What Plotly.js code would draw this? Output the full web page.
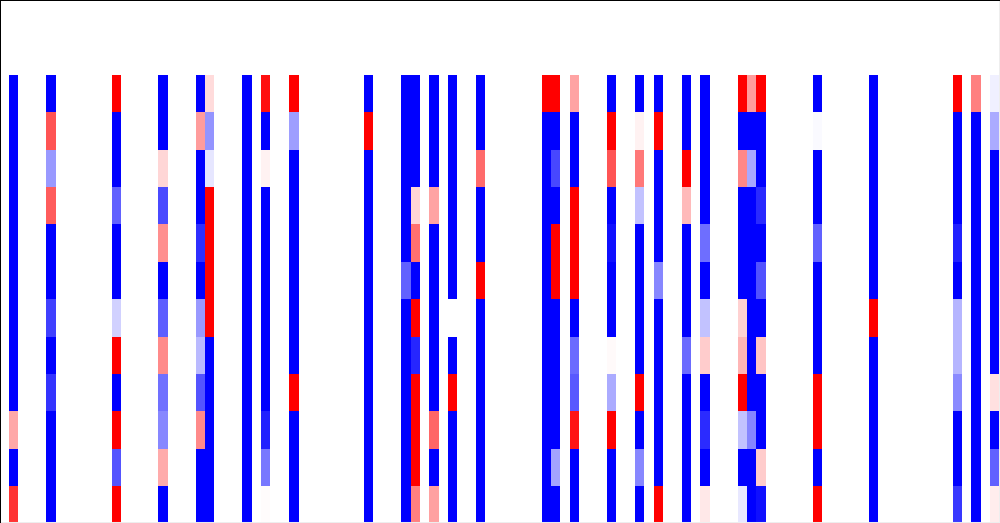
<!DOCTYPE html>
<html>
<head>
<meta charset="utf-8">
<script src="https://cdn.plot.ly/plotly-3.0.1.min.js"></script>
<style>html,body{margin:0;padding:0;background:#fff}#chart{width:1000px;height:523px}</style>
</head>
<body>
<div id="chart"></div>
<script>
var columnCount = 107;
var rowCount = 14;
var firstDataRow = 2;
var activeColumns = [1,5,12,17,21,22,26,28,31,39,43,44,46,48,51,58,59,61,65,68,70,73,75,79,80,81,87,93,102,104,106];
var col1 = [-1,-1,-1,-1,-1,-1,-1,-1,-1,.34,-1,.8];
var col5 = [-1,.67,-.4,.64,-1,-1,-.75,-1,-.8,-1,-1,-1];
var col12 = [1,-1,-1,-.62,-1,-1,-.18,1,-1,1,-.67,1];
var col17 = [-1,-1,.16,-.71,.44,-1,-.63,.46,-.56,-.47,.33,-1];
var col21 = [-1,.39,-1,-1,-.82,-1,-.4,-.27,-.67,.46,-1,-1];
var col22 = [.14,-.42,-.1,1,1,1,1,-1,-1,-1,-1,-1];
var col26 = [-1,-1,-1,-1,-1,-1,-1,-1,-1,-1,-1,-1];
var col28 = [.94,-1,.05,-1,-1,-1,-1,-1,-1,-.87,-.53,.01];
var col31 = [1,-.38,-1,-1,-1,-1,-1,-1,1,-1,-1,-1];
var col39 = [-1,1,-1,-1,-1,-1,-1,-1,-1,-1,-1,-1];
var col43 = [-1,-1,-1,-1,-1,-.62,-1,-1,-1,-1,-1,-1];
var col44 = [-1,-1,-1,.16,.56,-1,1,-.85,1,1,1,.5];
var col46 = [-1,-1,-1,.36,-1,-1,-1,-1,-1,.6,-1,.37];
var col48 = [-1,-1,-1,-1,-1,-1,0,-1,1,-1,-1,-1];
var col51 = [-1,-1,.58,-1,-1,1,-1,-1,-1,-1,-1,-1];
var col58 = [1,-1,-1,-1,-1,-1,-1,-1,-1,-1,-1,-1];
var col59 = [1,-1,-.72,-1,1,1,-1,-1,-1,-1,-.36,-1];
var col61 = [.36,-1,-1,1,1,1,-1,-.58,-.65,.92,-1,-1];
var col65 = [-1,1,.67,-1,-.94,-1,-1,.02,-.33,1,-1,-1];
var col68 = [-1,.05,.53,-.24,-1,-1,-1,-1,1,-1,-.47,-1];
var col70 = [-1,1,-1,-1,-1,-.47,-1,-1,-1,-1,-1,1];
var col73 = [-1,-1,1,.27,-1,-1,-1,-.58,-1,-1,-1,-1];
var col75 = [-1,-1,-1,-1,-.57,-1,-.24,.2,-1,-.83,-1,.09];
var col79 = [1,-1,.47,-1,-1,-1,.18,.29,1,-.24,-1,-.09];
var col80 = [.39,-1,-.34,-1,-1,-1,-1,-1,-1,-.48,-1,-1];
var col81 = [1,-1,-1,-.84,-1,-.68,-1,.23,-1,-1,.2,-.94];
var col87 = [-1,-.02,-1,-1,-.62,-1,-1,-1,1,1,-1,1];
var col93 = [-1,-1,-1,-1,-1,-1,1,-1,-1,-1,-1,-1];
var col102 = [1,-1,-1,-1,-.87,-1,-.29,-.29,-.46,-1,-1,-.78];
var col104 = [.5,-1,-1,-1,-1,-1,-1,-1,-1,-1,-1,-1];
var col106 = [-.06,-.33,-1,-1,-1,-1,-1,-1,.12,-1,-.62,.07];
var activeValues = [col1,col5,col12,col17,col21,col22,col26,col28,col31,col39,col43,col44,col46,col48,col51,col58,col59,col61,col65,col68,col70,col73,col75,col79,col80,col81,col87,col93,col102,col104,col106];

var z = [];
for (var r = 0; r < rowCount; r++) {
  var row = [];
  for (var c = 0; c < columnCount; c++) row.push(0);
  z.push(row);
}
activeColumns.forEach(function (c, i) {
  activeValues[i].forEach(function (v, r) { z[r + firstDataRow][c] = v; });
});

Plotly.newPlot('chart', [{
  type: 'heatmap',
  z: z,
  zmin: -1,
  zmax: 1,
  colorscale: [[0, '#0000ff'], [0.5, '#ffffff'], [1, '#ff0000']],
  showscale: false,
  hoverongaps: false
}], {
  width: 1000,
  height: 523,
  margin: {l: 0, r: 0, t: 0, b: 0, pad: 0},
  paper_bgcolor: '#ffffff',
  plot_bgcolor: '#ffffff',
  xaxis: {showticklabels: false, ticks: '', showgrid: false, zeroline: false, showline: false, range: [-0.4433, 106.5567]},
  yaxis: {showticklabels: false, ticks: '', showgrid: false, zeroline: false, showline: false, range: [13.4906, -0.5094]},
  shapes: [
    {type: 'line', xref: 'paper', yref: 'paper', x0: 0, x1: 1, y0: 0.001, y1: 0.001, line: {color: '#eeeeee', width: 1}},
    {type: 'line', xref: 'paper', yref: 'paper', x0: 0.9995, x1: 0.9995, y0: 0, y1: 1, line: {color: '#eeeeee', width: 1}},
    {type: 'line', xref: 'paper', yref: 'paper', x0: 0, x1: 1, y0: 1, y1: 1, line: {color: '#000000', width: 2}},
    {type: 'line', xref: 'paper', yref: 'paper', x0: 0, x1: 0, y0: 0, y1: 1, line: {color: '#000000', width: 2}}
  ]
}, {displayModeBar: false, staticPlot: true});
</script>
</body>
</html>
